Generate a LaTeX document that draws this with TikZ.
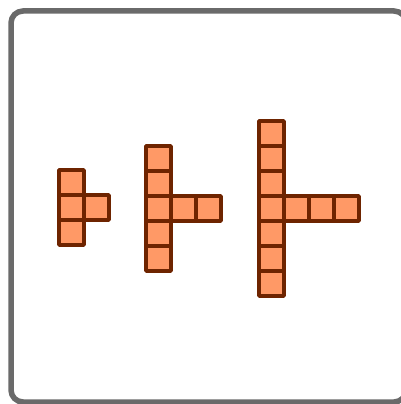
\documentclass[tikz,border=0pt]{standalone}
\definecolor{cellfill}{HTML}{FF9966}
\definecolor{celledge}{HTML}{6E2400}
\definecolor{frame}{HTML}{6A6A6A}
\tikzset{
  cell/.style={fill=cellfill, draw=celledge, line width=3.4pt, line join=round},
  frameline/.style={draw=frame, line width=5.5pt, rounded corners=12pt}
}
\begin{document}
\begin{tikzpicture}[x=1pt,y=-1pt]
\useasboundingbox (0,0) rectangle (400,404);
\fill[white] (0,0) rectangle (400,404);
\draw[frameline] (11,11) rectangle (406,402);
% figure 1
\foreach \r in {0,1,2} \draw[cell] (59,170+25*\r) rectangle ++(25,25);
\draw[cell] (84,195) rectangle ++(25,25);
% figure 2
\foreach \r in {0,...,4} \draw[cell] (146,146+25*\r) rectangle ++(25,25);
\foreach \c in {1,2} \draw[cell] (146+25*\c,196) rectangle ++(25,25);
% figure 3
\foreach \r in {0,...,6} \draw[cell] (259,121+25*\r) rectangle ++(25,25);
\foreach \c in {1,2,3} \draw[cell] (259+25*\c,196) rectangle ++(25,25);
\end{tikzpicture}
\end{document}
